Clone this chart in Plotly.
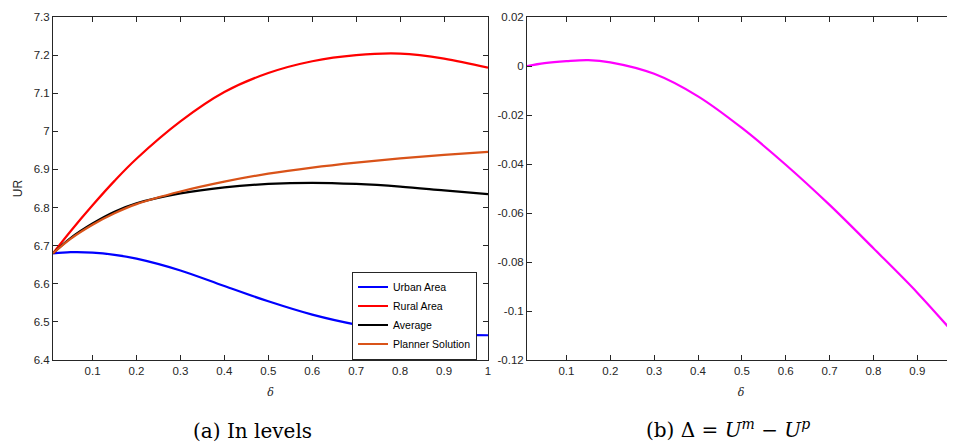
import plotly.graph_objects as go

# ---- data ----
delta_grid = [0.01, 0.05, 0.1, 0.15, 0.2, 0.3, 0.4, 0.5, 0.6, 0.7, 0.8, 0.9, 1.0]
urban = [6.680, 6.683, 6.682, 6.676, 6.666, 6.635, 6.594, 6.554, 6.519, 6.493, 6.477, 6.468, 6.465]
rural = [6.680, 6.738, 6.806, 6.870, 6.928, 7.026, 7.103, 7.153, 7.184, 7.200, 7.204, 7.191, 7.167]
average = [6.680, 6.720, 6.758, 6.789, 6.811, 6.837, 6.853, 6.862, 6.865, 6.862, 6.855, 6.845, 6.835]
planner = [6.680, 6.718, 6.755, 6.785, 6.809, 6.842, 6.868, 6.889, 6.905, 6.918, 6.929, 6.938, 6.946]
diff_vals = [0.0, 0.0012, 0.0020, 0.0024, 0.0015, -0.0032, -0.0124, -0.0253, -0.0403, -0.0567, -0.0744, -0.0925, -0.1125]

x_tickvals = [0.1, 0.2, 0.3, 0.4, 0.5, 0.6, 0.7, 0.8, 0.9, 1.0]
x_ticktext = ["0.1", "0.2", "0.3", "0.4", "0.5", "0.6", "0.7", "0.8", "0.9", "1"]
y1_tickvals = [6.4, 6.5, 6.6, 6.7, 6.8, 6.9, 7.0, 7.1, 7.2, 7.3]
y1_ticktext = ["6.4", "6.5", "6.6", "6.7", "6.8", "6.9", "7", "7.1", "7.2", "7.3"]
y2_tickvals = [-0.12, -0.1, -0.08, -0.06, -0.04, -0.02, 0.0, 0.02]
y2_ticktext = ["-0.12", "-0.1", "-0.08", "-0.06", "-0.04", "-0.02", "0", "0.02"]

# page body has an 8px default margin: figure is placed at (8, 8) in the window
OFF = 8
W, H = 955 - OFF, 444 - OFF
AX = "#262626"
SANS = "Liberation Sans, Arial, sans-serif"
TICKFONT = dict(family=SANS, size=11.5, color=AX)

fig = go.Figure()
series = [("Urban Area", urban, "#0000FF"),
          ("Rural Area", rural, "#FF0000"),
          ("Average", average, "#000000"),
          ("Planner Solution", planner, "#D95319")]
for name, vals, col in series:
    fig.add_trace(go.Scatter(x=delta_grid, y=vals, mode="lines", name=name,
                             line=dict(color=col, width=2.2, shape="spline", smoothing=1.0),
                             xaxis="x", yaxis="y"))
fig.add_trace(go.Scatter(x=delta_grid, y=diff_vals, mode="lines", showlegend=False,
                         line=dict(color="#FF00FF", width=2.2, shape="spline", smoothing=1.0),
                         xaxis="x2", yaxis="y2"))

def fx(p):
    return (p - OFF) / W

def fy(p):
    return 1 - (p - OFF) / H

common = dict(showline=True, linecolor=AX, linewidth=1, mirror="ticks", ticks="inside",
              ticklen=5, tickcolor=AX, tickwidth=1, showgrid=False, zeroline=False,
              tickfont=TICKFONT, automargin=False)
title_font = dict(family="DejaVu Serif, serif", size=11, color=AX)

fig.update_layout(
    width=W, height=H, margin=dict(l=0, r=0, t=0, b=0),
    paper_bgcolor="white", plot_bgcolor="white",
    xaxis=dict(domain=[fx(53), fx(488)], range=[0.01, 1.0], tickmode="array",
               tickvals=x_tickvals, ticktext=x_ticktext, anchor="y",
               title=dict(text="<i>δ</i>", font=title_font, standoff=12), **common),
    yaxis=dict(domain=[fy(360), fy(17)], range=[6.4, 7.3], tickmode="array",
               tickvals=y1_tickvals, ticktext=y1_ticktext, anchor="x",
               title=dict(text="UR", font=dict(family=SANS, size=12, color=AX), standoff=8),
               **common),
    xaxis2=dict(domain=[fx(527), 1.0], range=[0.01, 0.986], tickmode="array",
                tickvals=x_tickvals, ticktext=x_ticktext, anchor="y2",
                title=dict(text="<i>δ</i>", font=title_font, standoff=12), **common),
    yaxis2=dict(domain=[fy(360), fy(17)], range=[-0.12, 0.02], tickmode="array",
                tickvals=y2_tickvals, ticktext=y2_ticktext, anchor="x2", **common),
    legend=dict(x=fx(477), y=fy(315.5), xanchor="right", yanchor="middle",
                bgcolor="white", bordercolor=AX, borderwidth=1,
                font=dict(family=SANS, size=10.5, color="#000000"),
                tracegroupgap=0, itemwidth=30),
    showlegend=True,
)

cap_font = dict(family="DejaVu Serif, serif", size=20, color="#000000")
fig.add_annotation(text="(a) In levels", x=fx(252), y=fy(431), xref="paper", yref="paper",
                   showarrow=False, font=cap_font, xanchor="center", yanchor="middle")
fig.add_annotation(text="(b) Δ = <i>U</i><sup><i>m</i></sup> − <i>U</i><sup><i>p</i></sup>",
                   x=fx(728), y=fy(429), xref="paper", yref="paper",
                   showarrow=False, font=cap_font, xanchor="center", yanchor="middle")

fig.write_html("out.html")
